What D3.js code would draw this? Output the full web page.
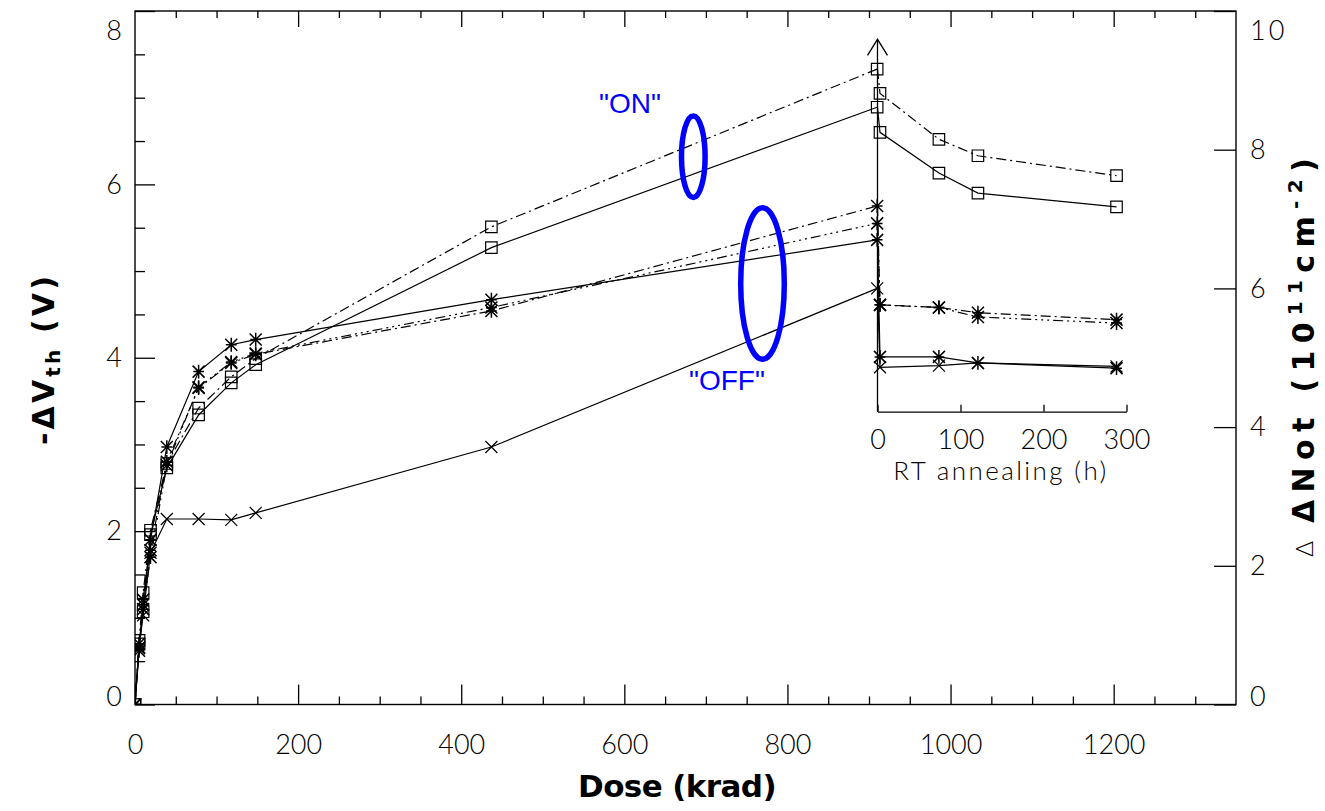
<!DOCTYPE html>
<html>
<head>
<meta charset="utf-8">
<script src="https://cdn.jsdelivr.net/npm/d3@7"></script>
<style>
  html, body { margin: 0; padding: 0; background: #fff; }
  svg { display: block; }
  .tick text { font-family: "Lato", "DejaVu Sans", sans-serif; font-weight: 300; font-size: 27px; fill: #000; }
  .title { font-family: "DejaVu Sans", sans-serif; font-weight: bold; font-size: 30px; fill: #000; }
</style>
</head>
<body>
<script>
// Dose steps (krad) and -ΔVth (V) for each device/bias condition
const dose = [0, 5, 10, 19, 39, 78, 118, 148, 437, 910];
const onDashDot  = [0, 0.74, 1.29, 2.01, 2.78, 3.42, 3.78, 3.99, 5.51, 7.33];
const onSolid    = [0, 0.70, 1.07, 1.96, 2.73, 3.34, 3.71, 3.92, 5.27, 6.89];
const offSolidStar = [0, 0.65, 1.21, 1.90, 2.97, 3.84, 4.15, 4.21, 4.67, 5.36];
const offDashDot   = [0, 0.70, 1.15, 1.78, 2.80, 3.65, 3.94, 4.04, 4.54, 5.75];
const offDashDot3  = [0, 0.62, 1.10, 1.70, 2.76, 3.66, 3.95, 4.05, 4.58, 5.55];
const offSolidX    = [0, 0.66, 1.03, 1.75, 2.14, 2.14, 2.13, 2.21, 2.97, 4.80];

// Room-temperature annealing after the last dose step (hours)
const hours = [0, 3, 74, 121, 288];
const onDashDotAnn  = [7.33, 7.05, 6.52, 6.33, 6.10];
const onSolidAnn    = [6.89, 6.60, 6.13, 5.90, 5.74];
const offSolidStarAnn = [5.36, 4.01, 4.01, 3.94, 3.88];
const offDashDotAnn   = [5.75, 4.61, 4.58, 4.52, 4.44];
const offDashDot3Ann  = [5.55, 4.61, 4.58, 4.47, 4.40];
const offSolidXAnn    = [4.80, 3.89, 3.91, 3.94, 3.90];

// Axis ticks
const doseMajor = [0, 200, 400, 600, 800, 1000, 1200];
const doseMinor = d3.range(50, 1350, 50).filter(d => d % 200 !== 0);
const vthMajor = [0, 2, 4, 6, 8];
const vthMinor = d3.range(0.5, 8, 0.5).filter(d => d % 2 !== 0);
const notMajor = [0, 2, 4, 6, 8, 10];
const annMajor = [0, 100, 200, 300];

const series = [
  { main: onDashDot,    ann: onDashDotAnn,    mark: "square", dash: "10,4,2,4" },
  { main: onSolid,      ann: onSolidAnn,      mark: "square", dash: null },
  { main: offSolidStar, ann: offSolidStarAnn, mark: "star",   dash: null },
  { main: offDashDot,   ann: offDashDotAnn,   mark: "star",   dash: "10,4,2,4" },
  { main: offDashDot3,  ann: offDashDot3Ann,  mark: "star",   dash: "10,4,2,4,2,4,2,4" },
  { main: offSolidX,    ann: offSolidXAnn,    mark: "times",  dash: null }
];

const W = 1325, H = 811;
const L = 135, R = 1236, T = 11, B = 704.5;

const svg = d3.select("body").append("svg").attr("width", W).attr("height", H);

const x = d3.scaleLinear().domain([0, 1350]).range([L, R]);
const y = d3.scaleLinear().domain([0, 8]).range([B, T]);
const y2 = d3.scaleLinear().domain([0, 10]).range([B, T]);
const xa = d3.scaleLinear().domain([0, 300]).range([877.5, 1126.5]);
const insetBase = 411.7, insetTop = 39.3;

// Marker shapes
const markTypes = {
  square: { draw(c, s) { const r = Math.sqrt(s) / 2; c.rect(-r, -r, 2 * r, 2 * r); } },
  times:  { draw(c, s) { const r = Math.sqrt(s) / 2; c.moveTo(-r, -r); c.lineTo(r, r); c.moveTo(-r, r); c.lineTo(r, -r); } },
  star:   { draw(c, s) { const r = Math.sqrt(s) / 2;
            c.moveTo(-r, -r); c.lineTo(r, r); c.moveTo(-r, r); c.lineTo(r, -r);
            c.moveTo(0, -r * 1.15); c.lineTo(0, r * 1.15); c.moveTo(-r * 0.9, 0); c.lineTo(r * 0.9, 0); } }
};
const symbol = t => d3.symbol().type(markTypes[t]).size(t === "square" ? 132 : 144)();

// Clip for main-plot marks
svg.append("defs").append("clipPath").attr("id", "plotClip")
  .append("rect").attr("x", L).attr("y", T).attr("width", R - L).attr("height", B - T);

// Axes
function styleAxis(g) {
  g.select(".domain").remove();
  g.selectAll(".tick line").attr("stroke", "#000").attr("stroke-width", 1.3);
}
svg.append("g").attr("transform", `translate(0,${B})`)
  .call(d3.axisBottom(x).tickValues(doseMajor).tickSizeInner(-20).tickSizeOuter(0).tickPadding(30).tickFormat(d3.format("d")))
  .call(styleAxis);
svg.append("g").attr("transform", `translate(0,${B})`)
  .call(d3.axisBottom(x).tickValues(doseMinor).tickSizeInner(-8).tickSizeOuter(0).tickFormat(""))
  .call(styleAxis);
svg.append("g").attr("transform", `translate(0,${T})`)
  .call(d3.axisTop(x).tickValues(doseMajor.filter(d => d > 0)).tickSizeInner(-16).tickSizeOuter(0).tickFormat(""))
  .call(styleAxis);
svg.append("g").attr("transform", `translate(0,${T})`)
  .call(d3.axisTop(x).tickValues(doseMinor).tickSizeInner(-7).tickSizeOuter(0).tickFormat(""))
  .call(styleAxis);

const leftMajor = svg.append("g").attr("transform", `translate(${L},0)`)
  .call(d3.axisLeft(y).tickValues(vthMajor).tickSizeInner(-20).tickSizeOuter(0).tickPadding(13).tickFormat(d3.format("d")))
  .call(styleAxis);
svg.append("g").attr("transform", `translate(${L},0)`)
  .call(d3.axisLeft(y).tickValues(vthMinor).tickSizeInner(-10).tickSizeOuter(0).tickFormat(""))
  .call(styleAxis);

const rightMajor = svg.append("g").attr("transform", `translate(${R},0)`)
  .call(d3.axisRight(y2).tickValues(notMajor).tickSizeInner(-22).tickSizeOuter(0).tickPadding(14).tickFormat(d3.format("d")))
  .call(styleAxis);
rightMajor.selectAll(".tick text").attr("letter-spacing", 3);

// End labels sit inside the frame corners
leftMajor.selectAll(".tick text").filter(d => d === 8).attr("dy", "1.05em");
leftMajor.selectAll(".tick text").filter(d => d === 0).attr("dy", "0.05em");
rightMajor.selectAll(".tick text").filter(d => d === 10).attr("dy", "1.05em");
rightMajor.selectAll(".tick text").filter(d => d === 0).attr("dy", "0.05em");

// Frame
svg.append("rect").attr("x", L).attr("y", T).attr("width", R - L).attr("height", B - T)
  .attr("fill", "none").attr("stroke", "#000").attr("stroke-width", 1.4);

// Inset annealing axes
const inset = svg.append("g").attr("transform", `translate(0,${insetBase})`)
  .call(d3.axisBottom(xa).tickValues(annMajor).tickSizeInner(-7).tickSizeOuter(0).tickPadding(18).tickFormat(d3.format("d")));
inset.select(".domain").attr("stroke", "#000").attr("stroke-width", 1.3);
inset.selectAll(".tick line").attr("stroke", "#000").attr("stroke-width", 1.3);

svg.append("line").attr("x1", xa(0)).attr("x2", xa(0)).attr("y1", insetBase).attr("y2", insetTop)
  .attr("stroke", "#000").attr("stroke-width", 1.3);
svg.append("path")
  .attr("d", `M${xa(0) - 10},${insetTop + 16}L${xa(0)},${insetTop}L${xa(0) + 10},${insetTop + 16}`)
  .attr("fill", "none").attr("stroke", "#000").attr("stroke-width", 1.3);

svg.append("text").attr("x", 1001).attr("y", 480).attr("text-anchor", "middle")
  .attr("font-family", "Lato, 'DejaVu Sans', sans-serif").attr("font-weight", 300)
  .attr("font-size", 26).attr("letter-spacing", 2.4).text("RT annealing (h)");

// Data
const lineMain = d3.line().x((d, i) => x(dose[i])).y(d => y(d));
const lineAnn = d3.line().x((d, i) => xa(hours[i])).y(d => y(d));
const plot = svg.append("g").attr("clip-path", "url(#plotClip)");

series.forEach(s => {
  const g = plot.append("g");
  [[s.main, lineMain], [s.ann, lineAnn]].forEach(([vals, gen]) => {
    g.append("path").attr("d", gen(vals)).attr("fill", "none")
      .attr("stroke", "#000").attr("stroke-width", 1.2)
      .attr("stroke-dasharray", s.dash);
  });
  const pts = s.main.map((v, i) => [x(dose[i]), y(v)])
    .concat(s.ann.slice(1).map((v, i) => [xa(hours[i + 1]), y(v)]));
  g.selectAll("path.mk").data(pts).join("path").attr("class", "mk")
    .attr("transform", d => `translate(${d[0]},${d[1]})`)
    .attr("d", symbol(s.mark)).attr("fill", "none")
    .attr("stroke", "#000").attr("stroke-width", s.mark === "star" ? 1.5 : 1.2);
});

// Group annotations
svg.append("ellipse").attr("cx", 693.3).attr("cy", 156.7).attr("rx", 11.8).attr("ry", 40.8)
  .attr("fill", "none").attr("stroke", "#0000ff").attr("stroke-width", 5.5);
svg.append("ellipse").attr("cx", 762.5).attr("cy", 283.5).attr("rx", 21.8).attr("ry", 75.8)
  .attr("fill", "none").attr("stroke", "#0000ff").attr("stroke-width", 5.5);
svg.append("text").attr("x", 599).attr("y", 113).attr("font-family", "'Liberation Sans', Arial, sans-serif")
  .attr("font-size", 28).attr("fill", "#0000ff").text('"ON"');
svg.append("text").attr("x", 689).attr("y", 390).attr("font-family", "'Liberation Sans', Arial, sans-serif")
  .attr("font-size", 28).attr("fill", "#0000ff").text('"OFF"');

// Axis titles, spaced out to their drawn length
function fitWidth(t, target) {
  const n = t.text().length;
  const len = t.node().getComputedTextLength();
  t.attr("letter-spacing", (target - len) / n);
}
const xt = svg.append("text").attr("class", "title").attr("x", 677).attr("y", 797)
  .attr("text-anchor", "middle").style("font-size", "31px").text("Dose (krad)");
fitWidth(xt, 198);

const ytl = svg.append("text").attr("class", "title")
  .attr("transform", "translate(54,359) rotate(-90)").attr("text-anchor", "middle");
ytl.append("tspan").text("-ΔV");
ytl.append("tspan").attr("font-size", 20).attr("dy", 6).text("th");
ytl.append("tspan").attr("dy", -6).text(" (V)");
fitWidth(ytl, 172);

const ytr = svg.append("text").attr("class", "title")
  .attr("transform", "translate(1314,523) rotate(-90)").attr("text-anchor", "start");
ytr.append("tspan").text("ΔNot (10");
ytr.append("tspan").attr("font-size", 20).attr("dy", -12).text("11");
ytr.append("tspan").attr("dy", 12).text("cm");
ytr.append("tspan").attr("font-size", 20).attr("dy", -12).text("-2");
ytr.append("tspan").attr("dy", 12).text(")");
fitWidth(ytr, 372);

svg.append("text").attr("transform", "translate(1313,549) rotate(-90)").attr("text-anchor", "middle")
  .attr("font-family", "Lato, 'DejaVu Sans', sans-serif").attr("font-weight", 300)
  .attr("font-size", 24).text("Δ");
</script>
</body>
</html>
